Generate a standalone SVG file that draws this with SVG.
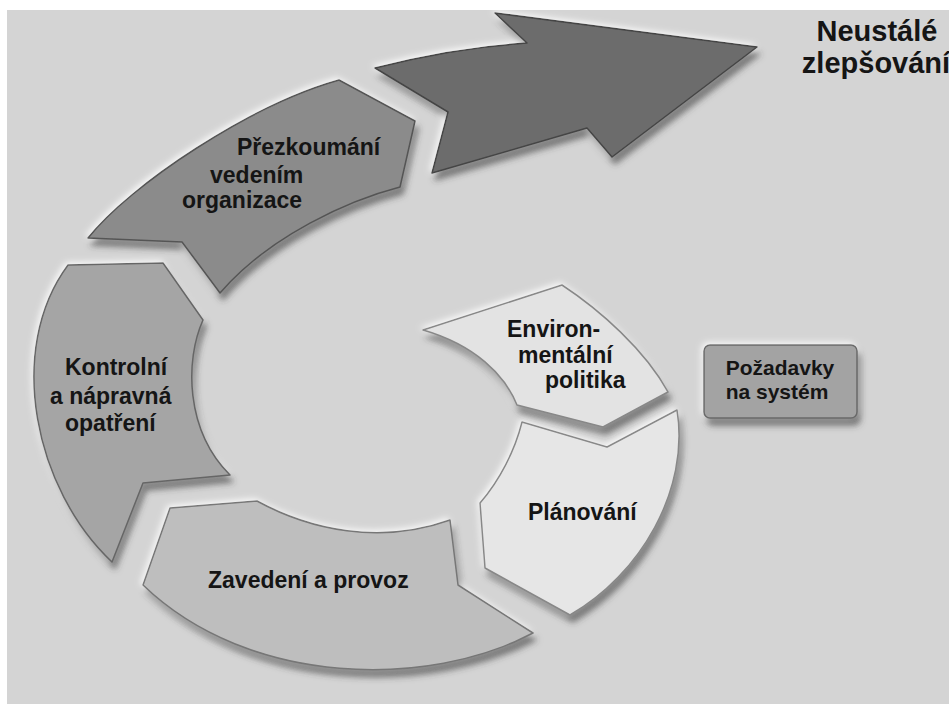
<svg xmlns="http://www.w3.org/2000/svg" width="949" height="704" viewBox="0 0 949 704">
<defs>
<filter id="sh" x="-20%" y="-20%" width="140%" height="150%">
<feGaussianBlur in="SourceAlpha" stdDeviation="3" result="b"/>
<feOffset in="b" dx="-2" dy="-2" result="lo"/>
<feFlood flood-color="#ffffff" flood-opacity="0.85"/>
<feComposite in2="lo" operator="in" result="light"/>
<feOffset in="b" dx="3" dy="7" result="do"/>
<feFlood flood-color="#3a3a3a" flood-opacity="0.6"/>
<feComposite in2="do" operator="in" result="dark"/>
<feMerge><feMergeNode in="light"/><feMergeNode in="dark"/><feMergeNode in="SourceGraphic"/></feMerge>
</filter>
</defs>
<style>
.t{font-family:"Liberation Sans",Arial,sans-serif;font-weight:bold;font-size:23px;fill:#151515}
.s{stroke-width:1.5;stroke-linejoin:round;filter:url(#sh)}
</style>
<rect x="0" y="0" width="949" height="704" fill="#ffffff"/>
<rect x="7" y="10" width="942" height="694" fill="#d4d4d4"/>
<g id="connectors"/>
<g id="improvement-arrow">
<path class="s" d="M375,68 Q453,48 527,43 L495,13 L757,47 L612,157 L587,128 L432,173 L448,112 Z" fill="#6c6c6c" stroke="#454545"/>
</g>
<g id="prezkoumani">
<path class="s" d="M88,238 C130,185 250,105 339,80 L415,121 L400,187 C350,200 270,235 220,293 L182,242 Z" fill="#8b8b8b" stroke="#555"/>
<text class="t" x="237" y="155">Přezkoumání</text>
<text class="t" x="210" y="183">vedením</text>
<text class="t" x="182" y="208">organizace</text>
</g>
<g id="kontrolni">
<path class="s" d="M68,265 L163,263 L203,320 C185,360 185,430 230,475 L143,483 L112,562 C35,490 5,350 68,265 Z" fill="#a5a5a5" stroke="#666"/>
<text class="t" x="65" y="375">Kontrolní</text>
<text class="t" x="50" y="404">a nápravná</text>
<text class="t" x="65" y="431">opatření</text>
</g>
<g id="zavedeni">
<path class="s" d="M143,585 L170,508 L257,501 C310,530 380,545 450,520 L458,585 L533,633 C430,688 250,688 143,585 Z" fill="#bebebe" stroke="#777"/>
<text class="t" x="208" y="588">Zavedení a provoz</text>
</g>
<g id="planovani">
<path class="s" d="M522,422 C515,450 500,480 480,503 L485,568 L570,615 C640,575 690,490 677,410 L607,447 Z" fill="#e6e6e6" stroke="#888"/>
<text class="t" x="528" y="520">Plánování</text>
</g>
<g id="environmentalni">
<path class="s" d="M423,330 L562,285 C600,310 645,350 668,392 L603,427 L517,405 C505,375 475,345 423,330 Z" fill="#e3e3e3" stroke="#888"/>
<text class="t" x="507" y="337">Environ-</text>
<text class="t" x="518" y="363">mentální</text>
<text class="t" x="545" y="388">politika</text>
</g>
<g id="pozadavky">
<rect class="s" x="704" y="345" width="153" height="73" rx="6" fill="#a3a3a3" stroke="#6a6a6a"/>
<text class="t" x="780" y="375" text-anchor="middle" style="font-size:21px">Požadavky</text>
<text class="t" x="777" y="399" text-anchor="middle" style="font-size:21px">na systém</text>
</g>
<g id="neustale">
<text class="t" x="877" y="41" text-anchor="middle" style="font-size:29px">Neustálé</text>
<text class="t" x="876" y="73" text-anchor="middle" style="font-size:29px">zlepšování</text>
</g>
</svg>
